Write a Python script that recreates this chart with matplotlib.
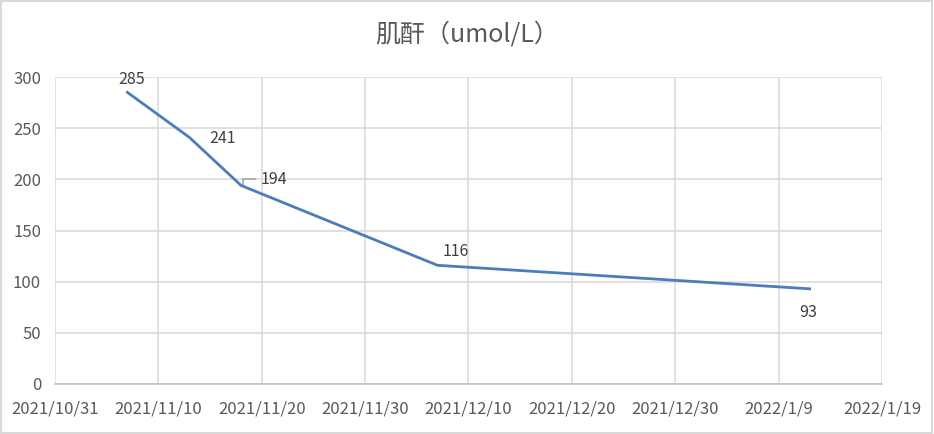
import datetime as dt
import matplotlib
matplotlib.use('Agg')
import matplotlib.pyplot as plt
import matplotlib.dates as mdates
import matplotlib.transforms as mtransforms
from matplotlib.patches import Rectangle

plt.rcParams['font.family'] = ['Noto Sans CJK SC', 'DejaVu Sans']

# data
dates = ['2021-11-07', '2021-11-13', '2021-11-18', '2021-12-07', '2022-01-12']
values = [285, 241, 194, 116, 93]
label_offsets = [(3, 9), (24, -1), (24, 4), (13, 10), (-1, -17)]
title = '肌酐（umol/L）'

x = [dt.datetime.strptime(d, '%Y-%m-%d') for d in dates]
xmin = dt.datetime(2021, 10, 31)
xmax = dt.datetime(2022, 1, 19)
xticks = [xmin + dt.timedelta(days=10 * i) for i in range(9)]

fig = plt.figure(figsize=(9.34, 4.34), dpi=100)
ax = fig.add_axes([55 / 934, 50 / 434, 827 / 934, 307 / 434])

ax.plot(x, values, color='#4A7EBB', lw=2.0, solid_joinstyle='round', zorder=3)

ax.set_xlim(xmin, xmax)
ax.set_ylim(0, 300)

for xi, v, off in zip(x, values, label_offsets):
    ax.annotate(str(v), (xi, v), xytext=off, textcoords='offset points',
                ha='center', va='center', fontsize=11.5, color='#404040')
    if v == 194:
        # small leader line from the point to its label (in points from the point)
        tr = (mtransforms.Affine2D().scale(1 / 72) + fig.dpi_scale_trans
              + mtransforms.ScaledTranslation(mdates.date2num(xi), v, ax.transData))
        ax.plot([1.5, 1.5, 10], [1.0, 4.5, 4.5], color='#A6A6A6', lw=1.2,
                transform=tr, clip_on=False)

ax.set_yticks(range(0, 301, 50))
ax.set_xticks(xticks)
ax.set_xticklabels([f'{d.year}/{d.month}/{d.day}' for d in xticks])
ax.grid(True, color='#D9D9D9', lw=1.1)
ax.set_axisbelow(True)
for s in ['left', 'right', 'top']:
    ax.spines[s].set_visible(False)
ax.spines['bottom'].set_color('#BFBFBF')
ax.spines['bottom'].set_linewidth(1.1)
ax.tick_params(length=0, colors='#595959', labelsize=12)
ax.tick_params(axis='x', pad=12)
ax.tick_params(axis='y', pad=10)

fig.text(0.5, 1 - 35 / 434, title, ha='center', va='center', fontsize=18,
         color='#595959')
fig.patches.append(Rectangle((0.001, 0.002), 0.997, 0.995, transform=fig.transFigure,
                             fill=False, edgecolor='#D9D9D9', lw=1.5))

fig.savefig('out.png', dpi=100)
